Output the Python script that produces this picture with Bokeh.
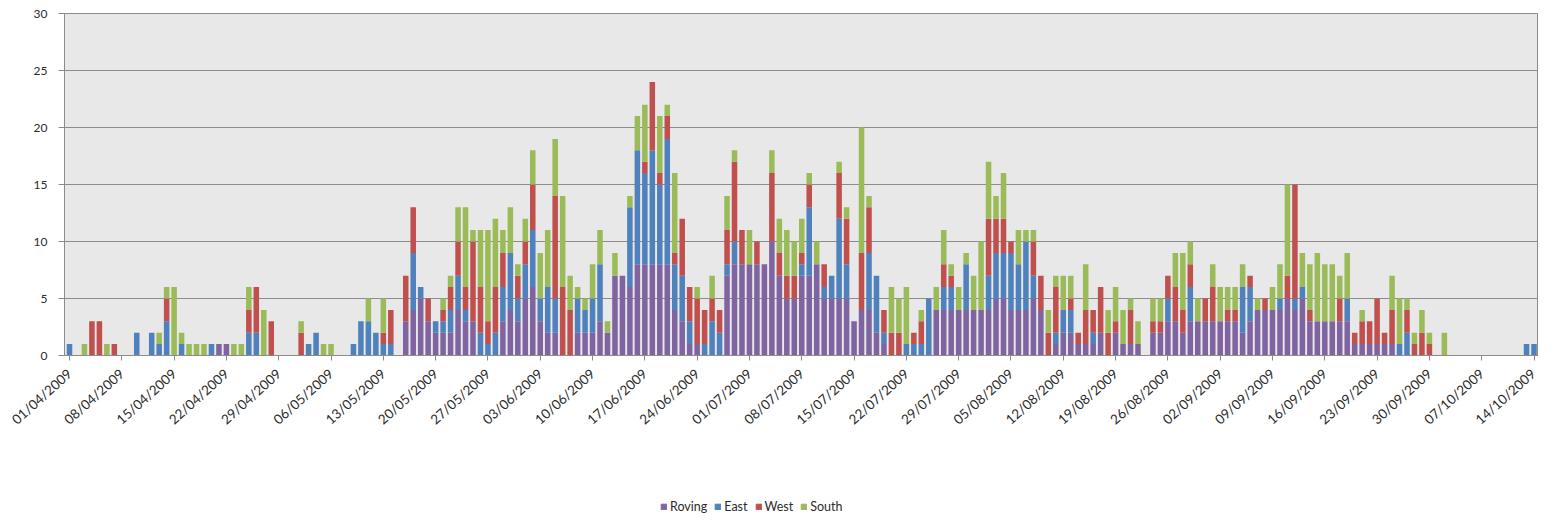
import math
from bokeh.plotting import figure
from bokeh.models import Range1d, FixedTicker, Legend, LegendItem, ColumnDataSource
from bokeh.layouts import column
from bokeh.embed import file_html
from bokeh.resources import INLINE

# ---- data (daily counts, 01/04/2009 .. 14/10/2009) ----
series = ["Roving", "East", "West", "South"]
colors = ["#8064A2", "#4F81BD", "#C0504D", "#9BBB59"]

# day index: (Roving, East, West, South)
daily = {
    0: (0, 1, 0, 0), 2: (0, 0, 0, 1), 3: (0, 0, 3, 0), 4: (0, 0, 3, 0), 5: (0, 0, 0, 1),
    6: (0, 0, 1, 0), 9: (0, 2, 0, 0), 11: (0, 2, 0, 0), 12: (0, 1, 0, 1), 13: (0, 3, 2, 1),
    14: (0, 0, 0, 6), 15: (0, 1, 0, 1), 16: (0, 0, 0, 1), 17: (0, 0, 0, 1), 18: (0, 0, 0, 1),
    19: (0, 1, 0, 0), 20: (1, 0, 0, 0), 21: (1, 0, 0, 0), 22: (0, 0, 0, 1), 23: (0, 0, 0, 1),
    24: (0, 2, 2, 2), 25: (0, 2, 4, 0), 26: (0, 0, 0, 4), 27: (0, 0, 3, 0), 31: (0, 0, 2, 1),
    32: (0, 1, 0, 0), 33: (0, 2, 0, 0), 34: (0, 0, 0, 1), 35: (0, 0, 0, 1), 38: (0, 1, 0, 0),
    39: (0, 3, 0, 0), 40: (0, 3, 0, 2), 41: (0, 2, 0, 0), 42: (0, 1, 1, 3), 43: (0, 1, 3, 0),
    45: (3, 0, 4, 0), 46: (4, 5, 4, 0), 47: (5, 1, 0, 0), 48: (3, 0, 2, 0), 49: (2, 1, 0, 0),
    50: (2, 1, 1, 1), 51: (2, 2, 2, 1), 52: (4, 3, 3, 3), 53: (3, 1, 2, 7), 54: (3, 0, 7, 1),
    55: (0, 2, 4, 5), 56: (0, 1, 2, 8), 57: (0, 2, 4, 6), 58: (3, 3, 3, 2), 59: (4, 5, 0, 4),
    60: (3, 2, 2, 1), 61: (5, 3, 2, 2), 62: (6, 5, 4, 3), 63: (3, 2, 0, 4), 64: (2, 4, 0, 5),
    65: (2, 3, 9, 5), 66: (0, 0, 6, 8), 67: (0, 0, 4, 3), 68: (2, 3, 0, 1), 69: (2, 2, 0, 1),
    70: (2, 3, 0, 3), 71: (3, 5, 0, 3), 72: (2, 0, 0, 1), 73: (7, 0, 0, 2), 74: (7, 0, 0, 0),
    75: (6, 7, 0, 1), 76: (8, 10, 0, 3), 77: (8, 8, 1, 5), 78: (8, 10, 6, 0), 79: (8, 7, 1, 5),
    80: (8, 11, 2, 1), 81: (4, 4, 1, 7), 82: (3, 4, 5, 0), 83: (1, 2, 3, 0), 84: (1, 0, 4, 1),
    85: (0, 1, 3, 0), 86: (0, 3, 2, 2), 87: (0, 2, 2, 0), 88: (7, 1, 3, 3), 89: (8, 2, 7, 1),
    90: (8, 0, 3, 0), 91: (8, 0, 0, 3), 92: (8, 0, 2, 0), 93: (8, 0, 0, 0), 94: (10, 0, 6, 2),
    95: (7, 0, 2, 3), 96: (5, 0, 2, 4), 97: (5, 0, 2, 3), 98: (7, 1, 1, 3), 99: (7, 6, 2, 1),
    100: (8, 0, 0, 2), 101: (5, 1, 2, 0), 102: (5, 2, 0, 0), 103: (5, 7, 4, 1), 104: (5, 3, 4, 1),
    105: (3, 0, 0, 0), 106: (4, 0, 5, 11), 107: (4, 5, 4, 1), 108: (2, 5, 0, 0), 109: (1, 1, 2, 0),
    110: (0, 0, 2, 4), 111: (0, 0, 2, 3), 112: (0, 1, 0, 5), 113: (0, 1, 1, 0), 114: (0, 1, 2, 1),
    115: (0, 5, 0, 0), 116: (4, 0, 0, 2), 117: (4, 2, 2, 3), 118: (4, 2, 1, 1), 119: (4, 0, 0, 2),
    120: (4, 4, 0, 1), 121: (4, 0, 0, 3), 122: (4, 0, 0, 6), 123: (4, 3, 5, 5), 124: (5, 4, 3, 2),
    125: (5, 4, 3, 4), 126: (4, 5, 1, 0), 127: (4, 4, 0, 3), 128: (4, 6, 0, 1), 129: (5, 2, 3, 1),
    130: (4, 0, 3, 0), 131: (0, 0, 2, 2), 132: (1, 1, 4, 1), 133: (2, 2, 0, 3), 134: (2, 2, 1, 2),
    135: (1, 0, 1, 0), 136: (1, 0, 3, 4), 137: (1, 1, 2, 0), 138: (2, 0, 4, 0), 139: (0, 0, 2, 2),
    140: (2, 0, 1, 3), 141: (1, 0, 0, 3), 142: (1, 0, 3, 1), 143: (1, 0, 0, 2), 145: (2, 0, 1, 2),
    146: (2, 0, 1, 2), 147: (3, 2, 2, 0), 148: (3, 0, 3, 3), 149: (2, 0, 2, 5), 150: (3, 3, 2, 2),
    151: (3, 0, 0, 2), 152: (3, 0, 2, 0), 153: (3, 0, 3, 2), 154: (3, 0, 0, 3), 155: (3, 0, 1, 2),
    156: (3, 0, 1, 2), 157: (2, 4, 0, 2), 158: (3, 3, 1, 0), 159: (4, 0, 0, 1), 160: (4, 0, 1, 0),
    161: (4, 0, 0, 2), 162: (4, 1, 0, 3), 163: (5, 0, 2, 8), 164: (4, 1, 10, 0), 165: (5, 1, 0, 3),
    166: (3, 0, 1, 4), 167: (3, 0, 0, 6), 168: (3, 0, 0, 5), 169: (3, 0, 0, 5), 170: (3, 0, 2, 2),
    171: (3, 2, 0, 4), 172: (1, 0, 1, 0), 173: (1, 0, 2, 1), 174: (1, 0, 2, 0), 175: (1, 0, 4, 0),
    176: (1, 0, 1, 0), 177: (1, 0, 3, 3), 178: (0, 1, 0, 4), 179: (0, 2, 2, 1), 180: (0, 0, 1, 1),
    181: (0, 0, 2, 2), 182: (0, 0, 1, 1), 184: (0, 0, 0, 2), 195: (0, 1, 0, 0), 196: (0, 1, 0, 0),
}
n_days = 197
days = list(range(n_days))
roving = [daily.get(d, (0, 0, 0, 0))[0] for d in days]
east = [daily.get(d, (0, 0, 0, 0))[1] for d in days]
west = [daily.get(d, (0, 0, 0, 0))[2] for d in days]
south = [daily.get(d, (0, 0, 0, 0))[3] for d in days]

tick_days = list(range(0, 197, 7))
tick_labels = ["01/04/2009", "08/04/2009", "15/04/2009", "22/04/2009", "29/04/2009",
               "06/05/2009", "13/05/2009", "20/05/2009", "27/05/2009", "03/06/2009",
               "10/06/2009", "17/06/2009", "24/06/2009", "01/07/2009", "08/07/2009",
               "15/07/2009", "22/07/2009", "29/07/2009", "05/08/2009", "12/08/2009",
               "19/08/2009", "26/08/2009", "02/09/2009", "09/09/2009", "16/09/2009",
               "23/09/2009", "30/09/2009", "07/10/2009", "14/10/2009"]
y_ticks = [0, 5, 10, 15, 20, 25, 30]

FONT = "Lato"
TEXT_COLOR = "#2b2b2b"

# ---- main chart ----
source = ColumnDataSource(dict(day=days, Roving=roving, East=east, West=west, South=south))

p = figure(width=1538, height=440, output_backend="svg", toolbar_location=None,
           x_range=Range1d(-0.67, 196.6), y_range=Range1d(0, 30),
           min_border_left=64, min_border_right=0, min_border_top=13, min_border_bottom=85)
p.background_fill_color = "#E8E8E8"
p.border_fill_color = "white"
p.outline_line_color = "#8C8C8C"

p.vbar_stack(series, x="day", width=0.74, color=colors, source=source, line_width=0)

p.xgrid.visible = False
p.ygrid.ticker = FixedTicker(ticks=y_ticks)
p.ygrid.grid_line_color = "#8C8C8C"
p.ygrid.grid_line_width = 1

p.yaxis.ticker = FixedTicker(ticks=y_ticks)
p.yaxis.axis_line_color = "#8C8C8C"
p.yaxis.major_tick_line_color = "#8C8C8C"
p.yaxis.major_tick_out = 6
p.yaxis.major_tick_in = 0
p.yaxis.minor_tick_line_color = None
p.yaxis.major_label_standoff = 11
p.yaxis.major_label_text_font = FONT
p.yaxis.major_label_text_font_size = "12px"
p.yaxis.major_label_text_color = TEXT_COLOR

p.xaxis.ticker = FixedTicker(ticks=tick_days)
p.xaxis.major_label_overrides = {d: lab for d, lab in zip(tick_days, tick_labels)}
p.xaxis.major_label_orientation = math.radians(42)
p.xaxis.axis_line_color = "#8C8C8C"
p.xaxis.major_tick_line_color = "#8C8C8C"
p.xaxis.major_tick_out = 5
p.xaxis.major_tick_in = 0
p.xaxis.minor_tick_line_color = None
p.xaxis.major_label_standoff = 11
p.xaxis.major_label_text_font = FONT
p.xaxis.major_label_text_font_size = "13.5px"
p.xaxis.major_label_text_color = TEXT_COLOR

# ---- legend strip below the chart ----
lg = figure(width=1538, height=74, output_backend="svg", toolbar_location=None,
            x_range=Range1d(0, 1), y_range=Range1d(0, 1),
            min_border_left=0, min_border_right=0, min_border_top=0, min_border_bottom=0)
lg.axis.visible = False
lg.grid.visible = False
lg.outline_line_color = None
lg.background_fill_color = "white"
lg.border_fill_color = "white"
# off-range placeholder glyphs: they only provide the legend swatches
dummies = [lg.vbar(x=[-5], top=[0], width=0.5, color=c) for c in colors]
legend = Legend(items=[LegendItem(label=s, renderers=[r]) for s, r in zip(series, dummies)],
                orientation="horizontal", location=(596, 0),
                glyph_width=7, glyph_height=7, label_standoff=3, spacing=7,
                padding=0, margin=0, border_line_alpha=0, background_fill_alpha=0,
                label_text_font=FONT, label_text_font_size="12.5px",
                label_text_color=TEXT_COLOR)
lg.add_layout(legend, "center")

layout = column(p, lg, spacing=0)
open("out.html", "w").write(file_html(layout, INLINE))
